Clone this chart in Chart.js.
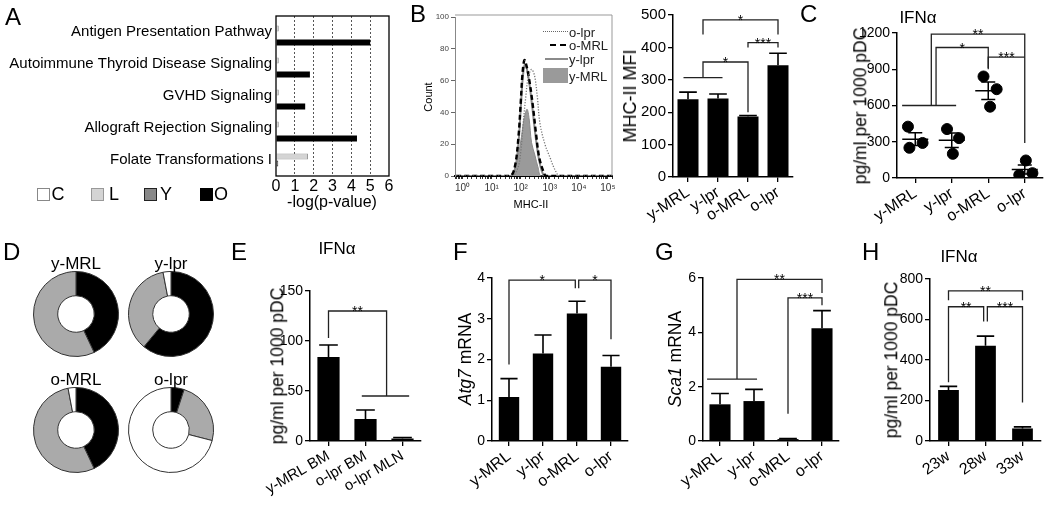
<!DOCTYPE html>
<html><head><meta charset="utf-8">
<script src="https://cdn.jsdelivr.net/npm/chart.js@4.4.1/dist/chart.umd.min.js"></script>
<style>
body{margin:0;width:1050px;height:509px;background:#fff;position:relative;overflow:hidden;font-family:"Liberation Sans",Arial,sans-serif;color:#000}
.box{position:absolute}
.t{position:absolute;white-space:nowrap;line-height:1}
</style></head><body>
<script>
// ---------- DATA ----------
// Panel A
const pathways = ['Antigen Presentation Pathway','Autoimmune Thyroid Disease Signaling','GVHD Signaling','Allograft Rejection Signaling','Folate Transformations I'];
const pathC = [0, 0, 0, 0, 0];
const pathL = [0.15, 0.15, 0.15, 0.15, 1.7];
const pathY = [0, 0, 0, 0, 0.12];
const pathO = [5.0, 1.8, 1.55, 4.3, 0];
// Panel B histogram (MHC-II fluorescence, count)
const olprX = [0.6, 50, 80, 100, 120, 150, 180, 236, 300, 372, 460, 680, 1000, 1500, 2240, 140000];
const olprY = [0, 0, 5, 15, 32, 50, 62, 67, 63, 50, 33, 20, 12, 4, 0, 0];
const omrlX = [0.6, 42, 63, 84, 100, 116, 135, 160, 195, 255, 335, 430, 600, 775, 140000];
const omrlY = [0, 0, 6, 25, 46, 65, 73, 69, 61, 46, 27, 12, 3, 0, 0];
const ylprX = [0.6, 45, 65, 85, 100, 118, 138, 160, 200, 255, 330, 430, 560, 720, 140000];
const ylprY = [0, 0, 5, 22, 42, 62, 70, 68, 58, 42, 24, 10, 2, 0, 0];
const ymrlX = [0.6, 40, 60, 80, 107, 130, 165, 195, 236, 309, 400, 520, 140000];
const ymrlY = [0, 0, 4, 12, 25, 36, 42, 36, 21, 13, 5, 0, 0];
// Panel B MFI
const groups = ['y-MRL', 'y-lpr', 'o-MRL', 'o-lpr'];
const mfi = [240, 242, 187, 345];
const mfiErr = [262, 256, 190, 382];
// Panel C IFNa points
const ifnYMRL = [425, 250, 290];
const ifnYlpr = [405, 330, 200];
const ifnOMRL = [840, 735, 590];
const ifnOlpr = [145, 25, 40];
// Panel D donuts (O, L, C shares)
const donutNames = ['y-MRL', 'y-lpr', 'o-MRL', 'o-lpr'];
const donutO = [43, 61, 43, 5];
const donutL = [57, 36, 54, 24];
const donutC = [0, 3, 3, 71];
// Panel E
const eLabels = ['y-MRL BM', 'o-lpr BM', 'o-lpr MLN'];
const eVals = [84, 22, 2.5];
const eErr = [96, 31, 3.5];
// Panel F
const atg7 = [1.08, 2.15, 3.13, 1.82];
const atg7Err = [1.53, 2.6, 3.43, 2.1];
// Panel G
const sca1 = [1.35, 1.47, 0.07, 4.15];
const sca1Err = [1.75, 1.9, 0.09, 4.8];
// Panel H
const weeks = ['23w', '28w', '33w'];
const hVals = [252, 470, 62];
const hErr = [270, 518, 70];

// significance annotations (data units)
const sigB = [
  {x1:-0.15, x2:1.15, y:307},
  {x1:0.5, yL:307, y:355, x2:2, yR:200, text:'*'},
  {x1:0.5, yL:440, y:485, x2:3, yR:440, text:'*'},
  {x1:2, yL:400, y:415, x2:3, yR:400, text:'***'}
];
const sigC = [
  {x1:-0.36, x2:1.12, y:600},
  {x1:0.44, yL:600, y:1190, x2:3, yR:290, text:'**'},
  {x1:0.57, yL:600, y:1080, x2:2, yR:900, text:'*'},
  {x1:2, yL:910, y:1000, x2:3, yR:1000, text:'***'}
];
const sigE = [
  {x1:0, yL:103, y:130, x2:1.57, yR:45, text:'**'},
  {x1:0.9, x2:2.18, y:45}
];
const sigF = [
  {x1:0, yL:1.88, y:3.95, x2:1.95, yR:3.75, text:'*'},
  {x1:2.05, yL:3.75, y:3.95, x2:3, yR:2.5, text:'*'}
];
const sigG = [
  {x1:-0.38, x2:1.09, y:2.28},
  {x1:0.5, yL:2.28, y:5.95, x2:3, yR:5.45, text:'**'},
  {x1:2, yL:1.0, y:5.27, x2:3, yR:5.0, text:'***'}
];
const sigH = [
  {x1:0, yL:695, y:741, x2:2, yR:695, text:'**'},
  {x1:0, yL:290, y:663, x2:0.95, yR:590, text:'**'},
  {x1:1.05, yL:590, y:663, x2:2, yR:190, text:'***'}
];
// jitter of dots in panel C (style)
const C_JITTER = [[-0.2,-0.16,0.2],[-0.13,0.2,0.03],[-0.13,0.23,0.05],[0.03,-0.15,0.21]];

// ---------- HELPERS ----------
const FONT = "'Liberation Sans', Arial, sans-serif";
Chart.defaults.font.family = FONT;
Chart.defaults.color = '#000';
Chart.defaults.animation = false;
Chart.defaults.plugins.legend.display = false;
Chart.defaults.plugins.tooltip.enabled = false;

function makeCanvas(l, t, w, h) {
  const d = document.createElement('div');
  d.className = 'box';
  d.style.cssText = `left:${l}px;top:${t}px;width:${w}px;height:${h}px`;
  const c = document.createElement('canvas');
  c.width = w; c.height = h;
  d.appendChild(c); document.body.appendChild(d);
  return c;
}
function text(str, cx, cy, size, extra) {
  const d = document.createElement('div');
  d.className = 't';
  d.innerHTML = str;
  let rot = (extra && extra.rot) ? ` rotate(${extra.rot}deg)` : '';
  d.style.cssText = `left:${cx}px;top:${cy}px;font-size:${size}px;transform:translate(-50%,-50%)${rot};` + ((extra && extra.css) || '');
  document.body.appendChild(d);
  return d;
}
function letter(ch, x, capTop) {
  const d = document.createElement('div');
  d.className = 't';
  d.textContent = ch;
  d.style.cssText = `left:${x}px;top:${capTop - 3}px;font-size:24px;`;
  document.body.appendChild(d);
}
function fixAxis(size) {
  return (a) => {
    if (a.isHorizontal()) a.height = size; else a.width = size;
    a.paddingLeft = a.paddingRight = a.paddingTop = a.paddingBottom = 0;
  };
}
const plainNum = (v) => String(v);
function errorBars(errs) {
  return {
    id: 'errbars',
    afterDatasetsDraw(chart) {
      const ctx = chart.ctx, ys = chart.scales.y;
      chart.getDatasetMeta(0).data.forEach((bar, i) => {
        const yv = ys.getPixelForValue(errs[i]);
        const cap = bar.width * 0.42;
        ctx.save(); ctx.strokeStyle = '#000'; ctx.lineWidth = 1.6;
        ctx.beginPath();
        ctx.moveTo(bar.x, bar.y); ctx.lineTo(bar.x, yv);
        ctx.moveTo(bar.x - cap, yv); ctx.lineTo(bar.x + cap, yv);
        ctx.stroke(); ctx.restore();
      });
    }
  };
}
function brackets(items) {
  return {
    id: 'brackets',
    afterDraw(chart) {
      const ctx = chart.ctx, xs = chart.scales.x, ys = chart.scales.y;
      ctx.save();
      ctx.strokeStyle = '#222'; ctx.lineWidth = 1.3; ctx.fillStyle = '#000';
      ctx.font = '14px ' + FONT; ctx.textAlign = 'center'; ctx.textBaseline = 'alphabetic';
      items.forEach(b => {
        const x1 = xs.getPixelForValue(b.x1), x2 = xs.getPixelForValue(b.x2);
        const y = ys.getPixelForValue(b.y);
        const yl = ys.getPixelForValue(b.yL !== undefined ? b.yL : b.y);
        const yr = ys.getPixelForValue(b.yR !== undefined ? b.yR : b.y);
        ctx.beginPath(); ctx.moveTo(x1, yl); ctx.lineTo(x1, y); ctx.lineTo(x2, y); ctx.lineTo(x2, yr); ctx.stroke();
        if (b.text) ctx.fillText(b.text, (x1 + x2) / 2, y + 5);
      });
      ctx.restore();
    }
  };
}
function axisStyle(tickLen) {
  return {
    grid: {display: true, drawOnChartArea: false, tickLength: tickLen, color: '#000', lineWidth: 1.3},
    border: {display: true, color: '#000', width: 1.5}
  };
}
function barPanel(cfg) {
  const cv = makeCanvas(cfg.box[0], cfg.box[1], cfg.box[2], cfg.box[3]);
  const xa = axisStyle(5); xa.grid.offset = false;
  const ya = axisStyle(5);
  return new Chart(cv, {
    type: 'bar',
    data: {labels: cfg.labels, datasets: [{data: cfg.values, backgroundColor: '#000', borderWidth: 0, barPercentage: cfg.barPct, categoryPercentage: 1}]},
    options: {
      responsive: false,
      layout: {padding: cfg.pad},
      scales: {
        x: Object.assign(xa, {afterFit: fixAxis(cfg.xH), ticks: {autoSkip: false, minRotation: cfg.rot, maxRotation: cfg.rot, padding: 1, font: {size: cfg.labelSize}}}),
        y: Object.assign(ya, {min: cfg.yMin, max: cfg.yMax, afterFit: fixAxis(cfg.yW), ticks: {stepSize: cfg.yStep, padding: 2, font: {size: cfg.tickSize}, callback: plainNum}})
      }
    },
    plugins: [errorBars(cfg.errors), brackets(cfg.sig || [])]
  });
}

// ---------- PANEL A ----------
{
  const cv = makeCanvas(0, 0, 400, 215);
  const bw = (c) => (c.raw > 0 ? 1 : 0);
  new Chart(cv, {
    type: 'bar',
    data: {labels: pathways, datasets: [
      {label: 'C', data: pathC, backgroundColor: '#fff', borderColor: '#888', borderWidth: bw},
      {label: 'L', data: pathL, backgroundColor: '#d4d4d4', borderColor: '#999', borderWidth: bw},
      {label: 'Y', data: pathY, backgroundColor: '#888', borderColor: '#222', borderWidth: bw},
      {label: 'O', data: pathO, backgroundColor: '#000', borderColor: '#000', borderWidth: 0}
    ]},
    options: {
      responsive: false, indexAxis: 'y',
      layout: {padding: {left: 0, right: 11, top: 16, bottom: 0}},
      datasets: {bar: {categoryPercentage: 0.875, barPercentage: 0.86}},
      scales: {
        y: {afterFit: fixAxis(276), grid: {display: false, drawTicks: false, tickLength: 0}, border: {display: false}, ticks: {padding: 4, font: {size: 15}, autoSkip: false}},
        x: {min: 0, max: 6, afterFit: fixAxis(39), border: {display: false, dash: [2, 2]},
            grid: {drawTicks: false, color: (c) => (c.tick && (c.tick.value === 0 || c.tick.value === 6)) ? 'rgba(0,0,0,0)' : '#555', lineWidth: 1},
            ticks: {stepSize: 1, padding: 1, font: {size: 16}}}
      }
    },
    plugins: [{id: 'frame', afterDraw(ch) { const a = ch.chartArea, ctx = ch.ctx; ctx.save(); ctx.strokeStyle = '#000'; ctx.lineWidth = 1.3; ctx.strokeRect(a.left, a.top, a.right - a.left, a.bottom - a.top); ctx.restore(); }}]
  });
  text('-log(p-value)', 332, 202, 16);
  // legend
  const leg = [['C', '#fff', '#888', 37, 52], ['L', '#d4d4d4', '#999', 91, 108], ['Y', '#888', '#222', 144, 160], ['O', '#000', '#000', 200, 215]];
  leg.forEach(([name, bg, bc, bx, tx]) => {
    const b = document.createElement('div');
    b.className = 'box';
    b.style.cssText = `left:${bx}px;top:188px;width:11px;height:11px;background:${bg};border:1px solid ${bc}`;
    document.body.appendChild(b);
    text(name, tx + 6, 194, 18);
  });
  letter('A', 5, 8);
}

// ---------- PANEL B histogram ----------
{
  const cv = makeCanvas(410, 0, 210, 215);
  const SUP = ['⁰', '¹', '²', '³', '⁴', '⁵'];
  const pts = (xs, ys) => xs.map((x, i) => ({x: x, y: ys[i]}));
  new Chart(cv, {
    type: 'line',
    data: {datasets: [
      {data: pts(olprX, olprY), borderColor: '#777', borderWidth: 1.3, borderDash: [1.2, 1.6], pointRadius: 0, tension: 0.35, order: 1},
      {data: pts(omrlX, omrlY), borderColor: '#000', borderWidth: 2.4, borderDash: [5, 3], pointRadius: 0, tension: 0.35, order: 2},
      {data: pts(ylprX, ylprY), borderColor: '#8a8a8a', borderWidth: 2, pointRadius: 0, tension: 0.35, order: 3},
      {data: pts(ymrlX, ymrlY), borderColor: '#8a8a8a', backgroundColor: '#9a9a9a', fill: 'origin', borderWidth: 1, pointRadius: 0, tension: 0.35, order: 4}
    ]},
    options: {
      responsive: false,
      layout: {padding: {left: 0, right: 8, top: 17, bottom: 0}},
      scales: {
        x: {type: 'logarithmic', min: 0.55, max: 138000, afterFit: fixAxis(39),
            grid: {drawOnChartArea: false, tickLength: 3, color: '#333'}, border: {color: '#000', width: 2},
            ticks: {autoSkip: false, maxRotation: 0, minRotation: 0, padding: 3, font: {size: 10}, color: '#333',
              callback: (v) => { const l = Math.log10(v); const r = Math.round(l); return (Math.abs(l - r) < 1e-6 && r >= 0 && r <= 5) ? '10' + SUP[r] : ''; }}},
        y: {min: 0, max: 100, afterFit: fixAxis(45), grid: {drawOnChartArea: false, tickLength: 4, color: '#666'}, border: {color: '#888', width: 1},
            ticks: {stepSize: 20, padding: 2, font: {size: 8}, color: '#444'}}
      }
    },
    plugins: [{id: 'hframe', afterDraw(ch) { const a = ch.chartArea, ctx = ch.ctx; ctx.save(); ctx.strokeStyle = '#999'; ctx.lineWidth = 1; ctx.beginPath(); ctx.moveTo(a.left, a.top - 2); ctx.lineTo(a.right, a.top - 2); ctx.lineTo(a.right, a.bottom); ctx.stroke(); ctx.restore(); }}]
  });
  text('Count', 428, 97, 11, {rot: -90});
  text('MHC-II', 531, 204, 11);
  // legend
  const mk = (css) => { const d = document.createElement('div'); d.className = 'box'; d.style.cssText = css; document.body.appendChild(d); };
  mk('left:543px;top:31px;width:25px;height:0;border-top:1.5px dotted #666');
  mk('left:550px;top:44px;width:16px;height:0;border-top:2.5px dashed #000');
  mk('left:545px;top:58px;width:23px;height:0;border-top:2px solid #8a8a8a');
  mk('left:543px;top:68px;width:25px;height:15px;background:#9a9a9a');
  [['o-lpr', 31.5], ['o-MRL', 45], ['y-lpr', 59], ['y-MRL', 76]].forEach(([s, y]) => {
    const d = text(s, 569, y, 13); d.style.transform = 'translate(0,-50%)'; d.style.color = '#222';
  });
  letter('B', 410, 5);
}

// ---------- PANEL B MFI ----------
barPanel({box: [595, 0, 200, 230], labels: groups, values: mfi, errors: mfiErr, yMin: 0, yMax: 500, yStep: 100,
  yW: 78, xH: 53, pad: {left: 0, right: 2, top: 15, bottom: 0}, barPct: 0.7, rot: 33, tickSize: 15, labelSize: 16, sig: sigB});
text('MHC-II MFI', 630, 96, 18, {rot: -90});

// ---------- PANEL C ----------
{
  const cv = makeCanvas(800, 0, 250, 230);
  const all = [ifnYMRL, ifnYlpr, ifnOMRL, ifnOlpr];
  const pts = [];
  all.forEach((arr, g) => arr.forEach((v, k) => pts.push({x: g + C_JITTER[g][k], y: v})));
  const stats = all.map(arr => { const n = arr.length; const m = arr.reduce((a, b) => a + b, 0) / n; const sd = Math.sqrt(arr.reduce((a, b) => a + (b - m) * (b - m), 0) / (n - 1)); return {m: m, se: sd / Math.sqrt(n)}; });
  const xa = axisStyle(5), ya = axisStyle(5);
  new Chart(cv, {
    type: 'scatter',
    data: {datasets: [{data: pts, backgroundColor: '#000', borderColor: '#000', pointRadius: 5.5}]},
    options: {
      responsive: false,
      layout: {padding: {left: 0, right: 7, top: 33, bottom: 0}},
      scales: {
        x: Object.assign(xa, {type: 'linear', min: -0.5, max: 3.5, afterFit: fixAxis(52),
            afterBuildTicks: (ax) => { ax.ticks = groups.map((_, i) => ({value: i})); },
            ticks: {autoSkip: false, minRotation: 33, maxRotation: 33, padding: 1, font: {size: 16}, callback: (v) => groups[v]}}),
        y: Object.assign(ya, {min: 0, max: 1200, afterFit: fixAxis(97), ticks: {stepSize: 300, padding: 2, font: {size: 14}, callback: plainNum}})
      }
    },
    plugins: [{id: 'meanse', afterDatasetsDraw(ch) {
      const ctx = ch.ctx, xs = ch.scales.x, ys = ch.scales.y;
      ctx.save(); ctx.strokeStyle = '#000'; ctx.lineWidth = 1.5;
      stats.forEach((s, g) => {
        const x = xs.getPixelForValue(g), ym = ys.getPixelForValue(s.m), yh = ys.getPixelForValue(s.m + s.se), yl = ys.getPixelForValue(s.m - s.se);
        ctx.beginPath();
        ctx.moveTo(x - 13, ym); ctx.lineTo(x + 13, ym);
        ctx.moveTo(x, yh); ctx.lineTo(x, yl);
        ctx.moveTo(x - 7, yh); ctx.lineTo(x + 7, yh);
        ctx.moveTo(x - 7, yl); ctx.lineTo(x + 7, yl);
        ctx.stroke();
      });
      ctx.restore();
    }}, brackets(sigC)]
  });
  text('pg/ml per 1000 pDC', 861, 106, 17.5, {rot: -90});
  text('IFN&alpha;', 918, 17, 17);
  letter('C', 800, 5);
}

// ---------- PANEL D ----------
{
  const centers = [[76, 314], [171, 314], [76, 430], [171, 430]];
  donutNames.forEach((name, i) => {
    const [cx, cy] = centers[i];
    const cv = makeCanvas(cx - 43, cy - 43, 86, 86);
    new Chart(cv, {
      type: 'doughnut',
      data: {labels: ['O', 'L', 'C'], datasets: [{data: [donutO[i], donutL[i], donutC[i]], backgroundColor: ['#000', '#aaaaaa', '#fff'], borderColor: '#333', borderWidth: 1}]},
      options: {responsive: false, cutout: '43%', layout: {padding: 0}}
    });
    text(name, cx, cy - 51, 17);
  });
  letter('D', 3, 243);
}

// ---------- PANEL E ----------
barPanel({box: [250, 230, 180, 279], labels: eLabels, values: eVals, errors: eErr, yMin: 0, yMax: 150, yStep: 50,
  yW: 60, xH: 68, pad: {left: 0, right: 9, top: 61, bottom: 0}, barPct: 0.6, rot: 30, tickSize: 14, labelSize: 15, sig: sigE});
text('pg/ml per 1000 pDC', 278, 366, 17.5, {rot: -90});
text('IFN&alpha;', 337, 248, 17);
letter('E', 231, 243);

// ---------- PANEL F ----------
barPanel({box: [450, 230, 185, 279], labels: groups, values: atg7, errors: atg7Err, yMin: 0, yMax: 4, yStep: 1,
  yW: 42, xH: 68, pad: {left: 0, right: 7, top: 48, bottom: 0}, barPct: 0.6, rot: 38, tickSize: 14, labelSize: 16, sig: sigF});
text('<i>Atg7</i> mRNA', 466, 359, 17.5, {rot: -90});
letter('F', 453, 243);

// ---------- PANEL G ----------
barPanel({box: [640, 230, 205, 279], labels: groups, values: sca1, errors: sca1Err, yMin: 0, yMax: 6, yStep: 2,
  yW: 63, xH: 68, pad: {left: 0, right: 6, top: 48, bottom: 0}, barPct: 0.62, rot: 38, tickSize: 14, labelSize: 16, sig: sigG});
text('<i>Sca1</i> mRNA', 676, 359, 17.5, {rot: -90});
letter('G', 655, 243);

// ---------- PANEL H ----------
barPanel({box: [850, 230, 200, 279], labels: weeks, values: hVals, errors: hErr, yMin: 0, yMax: 800, yStep: 200,
  yW: 80, xH: 68, pad: {left: 0, right: 9, top: 49, bottom: 0}, barPct: 0.56, rot: 35, tickSize: 14, labelSize: 16, sig: sigH});
text('pg/ml per 1000 pDC', 892, 360, 17.5, {rot: -90});
text('IFN&alpha;', 959, 256, 17);
letter('H', 862, 243);
</script>
</body></html>
